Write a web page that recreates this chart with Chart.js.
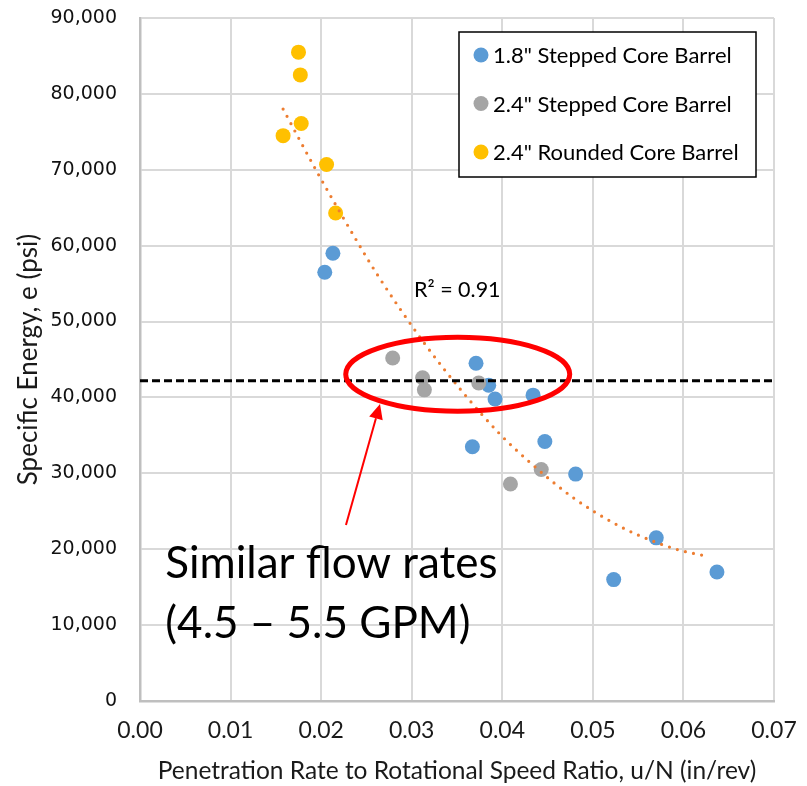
<!DOCTYPE html>
<html>
<head>
<meta charset="utf-8">
<script src="https://cdn.jsdelivr.net/npm/chart.js@4.4.1/dist/chart.umd.min.js"></script>
<style>
  html, body { margin: 0; padding: 0; background: #fff; }
  canvas { display: block; }
</style>
</head>
<body>
<canvas id="chart" width="807" height="786"></canvas>
<script>
// Specific energy vs. penetration-rate / rotational-speed ratio
const stepped18X = [0.0213, 0.0204, 0.0371, 0.0385, 0.0392, 0.0434, 0.0367, 0.0447, 0.0481, 0.0570, 0.0523, 0.0637];
const stepped18Y = [59000, 56500, 44500, 41600, 39800, 40300, 33500, 34200, 29900, 21500, 16000, 17000];

const stepped24X = [0.0279, 0.0312, 0.0314, 0.0374, 0.0443, 0.0409];
const stepped24Y = [45200, 42600, 41000, 41900, 30500, 28600];

const rounded24X = [0.0175, 0.0177, 0.0178, 0.0158, 0.0206, 0.0216];
const rounded24Y = [85500, 82500, 76100, 74500, 70700, 64300];

// polynomial trendline over all tests
const trendX = [0.0158, 0.0196, 0.0240, 0.0263, 0.0313, 0.0357, 0.0398, 0.0430, 0.0477, 0.0530, 0.0570, 0.0595, 0.0629];
const trendY = [78000, 69600, 60500, 56000, 47300, 40600, 35100, 31500, 26900, 23000, 20900, 19900, 19000];
const rSquared = '0.91';

// specific energy level shared by the similar-flow-rate tests
const flowLevel = 42200;

const seriesLabels = ['1.8" Stepped Core Barrel', '2.4" Stepped Core Barrel', '2.4" Rounded Core Barrel'];
const noteLines = ['Similar flow rates', '(4.5 \u2013 5.5 GPM)'];

const xTitle = 'Penetration Rate to Rotational Speed Ratio, u/N (in/rev)';
const yTitle = 'Specific Energy, e (psi)';
const xMin = 0, xMax = 0.07, xStep = 0.01;
const yMin = 0, yMax = 90000, yStep = 10000;

const pts = (xs, ys) => xs.map((x, i) => ({ x, y: ys[i] }));

const BLUE = '#5B9BD5', GRAY = '#A5A5A5', GOLD = '#FFC000', TREND = '#ED7D31';

// fixed plot-area box on the canvas
const AREA = { left: 140, top: 18, right: 774, bottom: 701 };

const pinArea = {
  id: 'pinArea',
  afterLayout(chart) {
    const a = chart.chartArea;
    Object.assign(a, AREA, { width: AREA.right - AREA.left, height: AREA.bottom - AREA.top });
    const { x, y } = chart.scales;
    x.left = AREA.left; x.right = AREA.right; x.width = AREA.right - AREA.left;
    x.top = AREA.bottom; x.bottom = chart.height; x.height = chart.height - AREA.bottom;
    y.top = AREA.top; y.bottom = AREA.bottom; y.height = AREA.bottom - AREA.top;
    y.left = 0; y.right = AREA.left; y.width = AREA.left;
    x.configure(); y.configure();
    x._labelItems = null; y._labelItems = null;
    x._gridLineItems = null; y._gridLineItems = null;
  }
};

const overlay = {
  id: 'overlay',
  afterDatasetsDraw(chart) {
    const { ctx, chartArea: a, scales: { x, y } } = chart;
    ctx.save();

    // dashed reference level
    const ly = y.getPixelForValue(flowLevel);
    ctx.beginPath();
    ctx.setLineDash([8, 4]);
    ctx.lineWidth = 3;
    ctx.strokeStyle = '#000';
    ctx.moveTo(a.left, ly);
    ctx.lineTo(a.right + 2, ly);
    ctx.stroke();
    ctx.setLineDash([]);

    // red ellipse around the similar-flow group
    const ex = x.getPixelForValue(0.03508), ey = y.getPixelForValue(43050);
    ctx.beginPath();
    ctx.lineWidth = 5;
    ctx.strokeStyle = '#FF0000';
    ctx.ellipse(ex, ey, 112, 37, 0, 0, Math.PI * 2);
    ctx.stroke();

    // arrow from the note to the ellipse
    const tx = x.getPixelForValue(0.02274), ty = y.getPixelForValue(23200);
    const hx = x.getPixelForValue(0.02650), hy = y.getPixelForValue(39150);
    const ang = Math.atan2(hy - ty, hx - tx);
    const headLen = 15, headHalf = 7;
    const bx = hx - headLen * Math.cos(ang), by = hy - headLen * Math.sin(ang);
    ctx.beginPath();
    ctx.lineWidth = 2;
    ctx.strokeStyle = '#FF0000';
    ctx.moveTo(tx, ty);
    ctx.lineTo(bx, by);
    ctx.stroke();
    ctx.beginPath();
    ctx.fillStyle = '#FF0000';
    ctx.moveTo(hx, hy);
    ctx.lineTo(bx + headHalf * Math.sin(ang), by - headHalf * Math.cos(ang));
    ctx.lineTo(bx - headHalf * Math.sin(ang), by + headHalf * Math.cos(ang));
    ctx.closePath();
    ctx.fill();

    // note text
    ctx.fillStyle = '#000';
    ctx.textAlign = 'left';
    ctx.textBaseline = 'alphabetic';
    ctx.font = '44px Lato';
    ctx.fillText(noteLines[0], x.getPixelForValue(0.0028), y.getPixelForValue(16200));
    ctx.fillText(noteLines[1], x.getPixelForValue(0.0028), y.getPixelForValue(8300));

    // trendline fit label
    ctx.font = '21.5px Lato';
    ctx.fillStyle = '#000';
    ctx.fillText('R\u00B2 = ' + rSquared, x.getPixelForValue(0.03025), y.getPixelForValue(53300));

    // legend box
    const lw = 297, lh = 145;
    const lx = a.right - 18 - lw, lt = a.top + 14;
    ctx.fillStyle = '#fff';
    ctx.fillRect(lx, lt, lw, lh);
    ctx.lineWidth = 1.5;
    ctx.strokeStyle = '#000';
    ctx.strokeRect(lx, lt, lw, lh);
    const marks = [BLUE, GRAY, GOLD];
    ctx.font = '22px Lato';
    ctx.textBaseline = 'middle';
    seriesLabels.forEach((lab, i) => {
      const ry = lt + 23 + i * 48.5;
      ctx.beginPath();
      ctx.fillStyle = marks[i];
      ctx.arc(lx + 22, ry, 7.5, 0, Math.PI * 2);
      ctx.fill();
      ctx.fillStyle = '#000';
      ctx.fillText(lab, lx + 34, ry + 1);
    });

    ctx.restore();
  }
};

new Chart(document.getElementById('chart'), {
  type: 'scatter',
  data: {
    datasets: [
      { label: seriesLabels[0], data: pts(stepped18X, stepped18Y), backgroundColor: BLUE, order: 3 },
      { label: seriesLabels[1], data: pts(stepped24X, stepped24Y), backgroundColor: GRAY, order: 2 },
      { label: seriesLabels[2], data: pts(rounded24X, rounded24Y), backgroundColor: GOLD, order: 1 },
      {
        label: 'Trend', data: pts(trendX, trendY), showLine: true, pointRadius: 0,
        borderColor: TREND, borderWidth: 3.2, borderDash: [0, 8.3], borderCapStyle: 'round',
        cubicInterpolationMode: 'monotone', fill: false, order: 0
      }
    ]
  },
  options: {
    responsive: false,
    animation: false,
    devicePixelRatio: 1,
    layout: { autoPadding: false, padding: { top: 18, right: 33, left: 0, bottom: 0 } },
    elements: { point: { radius: 7.5, borderWidth: 0, hoverRadius: 7.5 } },
    plugins: { legend: { display: false }, tooltip: { enabled: false } },
    scales: {
      x: {
        type: 'linear', min: xMin, max: xMax,
        afterFit(s) { s.height = 85; },
        ticks: {
          stepSize: xStep, padding: 16, color: '#1a1a1a',
          font: { family: 'Lato', size: 23 },
          callback: v => Number(v).toFixed(2)
        },
        grid: { color: '#D9D9D9', lineWidth: 2, drawTicks: false },
        border: { color: '#BFBFBF', width: 2.5 },
        title: {
          display: true, text: xTitle, color: '#1a1a1a',
          font: { family: 'Lato', size: 24.5 }, padding: { top: 0, bottom: 0 }
        }
      },
      y: {
        type: 'linear', min: yMin, max: yMax,
        afterFit(s) { s.width = 140; },
        ticks: {
          stepSize: yStep, padding: 23, color: '#111',
          font: { family: 'DejaVu Sans', size: 19 },
          callback: v => Number(v).toLocaleString('en-US')
        },
        grid: { color: '#D9D9D9', lineWidth: 2, drawTicks: false },
        border: { color: '#BFBFBF', width: 2.5 },
        title: {
          display: true, text: yTitle, color: '#1a1a1a',
          font: { family: 'Lato', size: 26 }, padding: { top: 13, bottom: 0 }
        }
      }
    }
  },
  plugins: [pinArea, overlay]
});
</script>
</body>
</html>
